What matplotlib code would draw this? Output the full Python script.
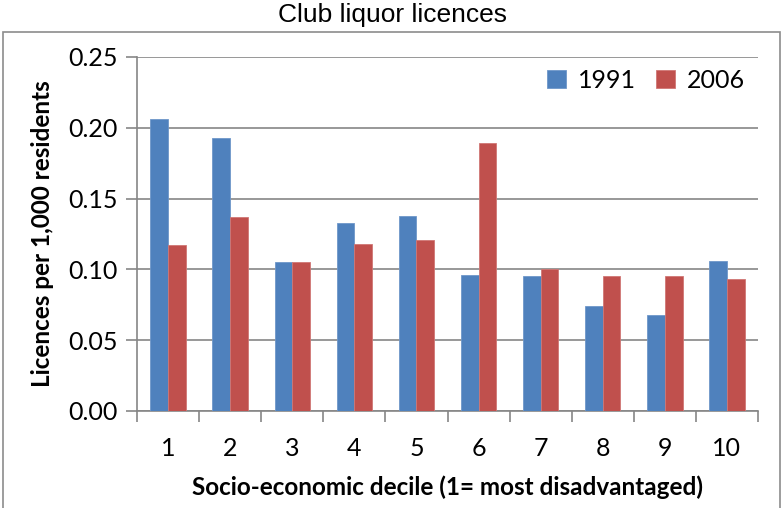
import numpy as np
import matplotlib.pyplot as plt
from matplotlib.patches import Rectangle

# 数据
deciles = ['1', '2', '3', '4', '5', '6', '7', '8', '9', '10']
lic_1991 = [0.206, 0.193, 0.105, 0.133, 0.138, 0.096, 0.095, 0.074, 0.068, 0.106]
lic_2006 = [0.117, 0.137, 0.105, 0.118, 0.121, 0.189, 0.100, 0.095, 0.095, 0.093]
yticks = [0.00, 0.05, 0.10, 0.15, 0.20, 0.25]

tick_font = 'Lato'
grid_c = '#868686'

fig = plt.figure(figsize=(7.83, 5.08), dpi=100)
ax = fig.add_axes([137 / 783, 1 - 411 / 508, 621 / 783, 354 / 508])

# 外框
fig.patches.append(Rectangle((3 / 783, -0.02), 777 / 783, 1 - 32 / 508 + 0.02,
                             transform=fig.transFigure, fill=False,
                             edgecolor='#8c8c8c', linewidth=1.2))
fig.text(393 / 783, 1 - 15 / 508, 'Club liquor licences', fontsize=19,
         family='Liberation Sans', ha='center', va='center')

x = np.arange(1, len(deciles) + 1)
w = 1 / 3.5
ax.bar(x - w / 2, lic_1991, width=w, color='#4F81BD', edgecolor='#6f97c9',
       linewidth=0.6, label='1991', zorder=3)
ax.bar(x + w / 2, lic_2006, width=w, color='#C0504D', edgecolor='#d07775',
       linewidth=0.6, label='2006', zorder=3)

ax.set_xlim(0.5, len(deciles) + 0.5)
ax.set_ylim(0, 0.25)
ax.set_yticks(yticks)
ax.set_yticklabels([f'{v:.2f}' for v in yticks], fontsize=18, family=tick_font)
ax.set_xticks(x)
ax.set_xticklabels(deciles, fontsize=18, family=tick_font)
ax.set_xticks(np.arange(0.5, len(deciles) + 1, 1), minor=True)
ax.tick_params(axis='x', which='major', length=0, pad=19)
ax.tick_params(axis='x', which='minor', length=8, color=grid_c, width=1.2)
ax.tick_params(axis='y', length=8, color=grid_c, width=1.2, pad=6)

ax.grid(axis='y', color=grid_c, linewidth=1.2, zorder=0)
for s in ['top', 'right']:
    ax.spines[s].set_visible(False)
for s in ['left', 'bottom']:
    ax.spines[s].set_color(grid_c)
    ax.spines[s].set_linewidth(1.2)

ax.set_ylabel('Licences per 1,000 residents', fontsize=17.5, fontweight='bold',
              family=tick_font, labelpad=10)
ax.set_xlabel('Socio-economic decile (1= most disadvantaged)', fontsize=17.5,
              fontweight='bold', family=tick_font, labelpad=11)

leg = ax.legend(loc='upper right', ncol=2, frameon=False,
                prop={'family': tick_font, 'size': 18}, handlelength=0.75,
                handleheight=0.75, handletextpad=0.5, columnspacing=0.8,
                bbox_to_anchor=(1.016, 1.03))

fig.savefig('out.png', dpi=100)
